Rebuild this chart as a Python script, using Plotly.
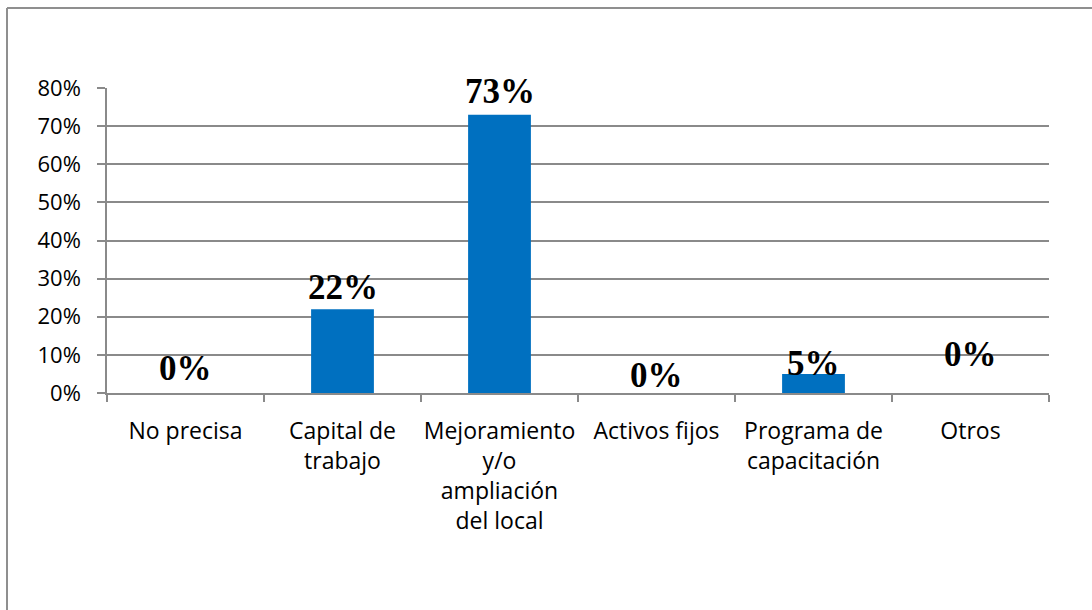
import plotly.graph_objects as go

categories = ["No precisa", "Capital de trabajo", "Mejoramiento y/o ampliación del local",
              "Activos fijos", "Programa de capacitación", "Otros"]
tick_labels = ["No precisa", "Capital de<br>trabajo", "Mejoramiento<br>y/o<br>ampliación<br>del local",
               "Activos fijos", "Programa de<br>capacitación", "Otros"]
values = [0.0, 0.22, 0.73, 0.0, 0.05, 0.0]
value_labels = ["0%", "22%", "73%", "0%", "5%", "0%"]

# label vertical offsets (px) as placed in the original
label_yshift = [25, 22, 23, 18, 10, 39]

W, H = 1092, 610
L, R, T, B = 107, 43, 88, 217

GRID = "#8a8a8a"

fig = go.Figure()
fig.add_trace(go.Bar(
    x=categories, y=values, width=0.4,
    marker=dict(color="#0070C0", line=dict(width=0)),
    hoverinfo="skip",
))

for c, v, t, s in zip(categories, values, value_labels, label_yshift):
    fig.add_annotation(x=c, y=v, text="<b>%s</b>" % t, showarrow=False,
                       xanchor="center", yanchor="middle", yshift=s,
                       font=dict(family="Liberation Serif, Times New Roman, serif", size=35, color="#000000"))

# outer frame (left and top edges visible)
pw, ph = W - L - R, H - T - B
fx0 = (7 - L) / pw
fy1 = (T - 8) / ph + 1.0
fig.add_shape(type="line", xref="paper", yref="paper", x0=fx0, x1=(W + 20 - L) / pw, y0=fy1, y1=fy1,
              line=dict(color="#8f8f8f", width=2))
fig.add_shape(type="line", xref="paper", yref="paper", x0=fx0, x1=fx0, y0=fy1, y1=-(B + 20) / ph,
              line=dict(color="#8f8f8f", width=2))

fig.update_layout(
    width=W, height=H,
    margin=dict(l=L, r=R, t=T, b=B),
    paper_bgcolor="white", plot_bgcolor="white",
    showlegend=False,
    font=dict(family="Open Sans, Noto Sans, sans-serif", size=22, color="#000000"),
    bargap=0.6,
)
fig.update_xaxes(
    tickmode="array", tickvals=categories, ticktext=tick_labels,
    tickson="boundaries", ticks="outside", ticklen=7, tickwidth=1.5, tickcolor=GRID,
    showline=True, linecolor=GRID, linewidth=1.5,
    showgrid=False, tickangle=0,
    ticklabelstandoff=17,
    tickfont=dict(family="Open Sans, Noto Sans, sans-serif", size=23, color="#000000"),
)
fig.update_yaxes(
    range=[0, 0.8], dtick=0.1, tick0=0, tickformat=".0%",
    ticks="outside", ticklen=8, tickwidth=1.5, tickcolor=GRID,
    showline=True, linecolor=GRID, linewidth=1.5,
    showgrid=True, gridcolor=GRID, gridwidth=1.5,
    zeroline=False,
    ticklabelstandoff=12,
    tickfont=dict(family="Open Sans, Noto Sans, sans-serif", size=22, color="#000000"),
)

fig.write_html("out.html", config={"displayModeBar": False},
               post_script="document.body.style.margin='0';document.body.style.overflow='hidden';")
